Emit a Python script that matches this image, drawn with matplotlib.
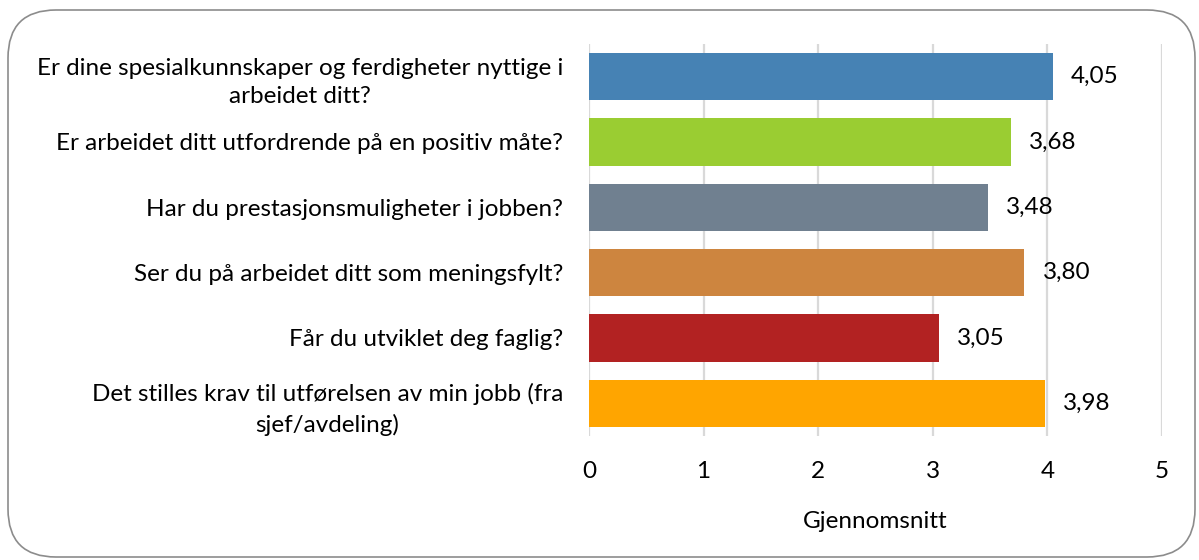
import matplotlib
matplotlib.use("Agg")
import matplotlib.pyplot as plt
from matplotlib.patches import FancyBboxPatch

categories = [
    "Er dine spesialkunnskaper og ferdigheter nyttige i\narbeidet ditt?",
    "Er arbeidet ditt utfordrende på en positiv måte?",
    "Har du prestasjonsmuligheter i jobben?",
    "Ser du på arbeidet ditt som meningsfylt?",
    "Får du utviklet deg faglig?",
    "Det stilles krav til utførelsen av min jobb (fra\nsjef/avdeling)",
]
values = [4.05, 3.68, 3.48, 3.80, 3.05, 3.98]
value_labels = ["4,05", "3,68", "3,48", "3,80", "3,05", "3,98"]
colors = ["#4682B4", "#9ACD32", "#708090", "#CD853F", "#B22222", "#FFA500"]
xticks = [0, 1, 2, 3, 4, 5]
xlabel = "Gjennomsnitt"

plt.rcParams['font.family'] = ['Lato', 'DejaVu Sans']
FS = 17.5

fig = plt.figure(figsize=(11.99, 5.6), dpi=100)
ax = fig.add_axes([589/1199, 1-436/560, (1162-589)/1199, (436-44)/560])

border = FancyBboxPatch((8/1199, 3/560), (1195-8)/1199, (557-10)/560,
                        boxstyle="round,pad=0,rounding_size=0.04",
                        transform=fig.transFigure, facecolor="none",
                        edgecolor="#8c8c8c", linewidth=1.2, mutation_aspect=1199/560)
fig.add_artist(border)

y = list(range(len(categories)))
ax.barh(y, values, height=0.72, color=colors, zorder=3)
ax.set_ylim(len(categories) - 0.5, -0.5)
ax.set_xlim(0, 5)
ax.set_xticks(xticks)
ax.set_xticklabels([str(t) for t in xticks], fontsize=FS)
ax.set_yticks(y)
ax.set_yticklabels(categories, fontsize=FS, multialignment="center", linespacing=1.45)
ax.tick_params(axis='both', length=0, colors="#000000")
ax.tick_params(axis='y', pad=18.5)
ax.tick_params(axis='x', pad=18)
ax.grid(axis='x', color="#d9d9d9", linewidth=1.6, zorder=0)
for s in ax.spines.values():
    s.set_visible(False)
ax.set_xlabel(xlabel, fontsize=FS, labelpad=21)

for yi, v, lab in zip(y, values, value_labels):
    ax.annotate(lab, (v, yi), xytext=(18, 0), textcoords="offset pixels",
                va="center", ha="left", fontsize=FS)

fig.savefig("out.png", dpi=100)
